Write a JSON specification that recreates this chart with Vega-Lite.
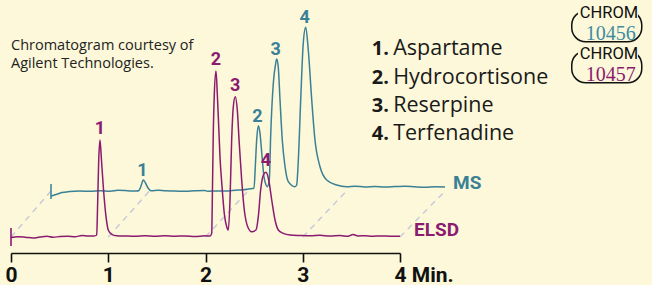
{
  "$schema": "https://vega.github.io/schema/vega-lite/v6.json",
  "width": 652,
  "height": 253,
  "autosize": "none",
  "padding": {"left": 0, "top": 0, "right": 0, "bottom": 32},
  "background": "#fcf8d9",
  "config": {"view": {"stroke": null}},
  "datasets": {
    "ms": [
      {"t":0,"v":-2.5},{"t":0.05,"v":-1.75},{"t":0.11,"v":-0.75},{"t":0.19,"v":-0.25},{"t":0.29,"v":0},{"t":0.4,"v":-0.15},{"t":0.5,"v":0.1},{"t":0.6,"v":-0.1},{"t":0.68,"v":0.35},{"t":0.75,"v":0.25},{"t":0.82,"v":0},{"t":0.87,"v":0},
      {"t":0.893,"v":0.25},{"t":0.914,"v":2.5},{"t":0.937,"v":5.5},{"t":0.959,"v":4},{"t":0.985,"v":1.5},{"t":1.015,"v":0.15},
      {"t":1.09,"v":0.35},{"t":1.16,"v":0.1},{"t":1.26,"v":0},{"t":1.36,"v":-0.15},{"t":1.46,"v":0.1},{"t":1.56,"v":0.25},{"t":1.59,"v":-0.1},{"t":1.7,"v":0},{"t":1.8,"v":0},{"t":1.87,"v":0.35},{"t":1.95,"v":0.6},{"t":2.02,"v":1.1},{"t":2.05,"v":1.3},
      {"t":2.061,"v":1.35},{"t":2.074,"v":12.15},{"t":2.088,"v":25.5},{"t":2.105,"v":32.65},{"t":2.122,"v":28.85},{"t":2.14,"v":18.85},{"t":2.162,"v":7.15},{"t":2.183,"v":3},{"t":2.196,"v":2.15},
      {"t":2.216,"v":5.5},{"t":2.231,"v":28.85},{"t":2.257,"v":53.85},{"t":2.281,"v":63.85},{"t":2.291,"v":66},{"t":2.307,"v":62.15},{"t":2.325,"v":45.5},{"t":2.348,"v":25.5},{"t":2.376,"v":12.15},{"t":2.409,"v":4.65},{"t":2.477,"v":2.15},
      {"t":2.494,"v":3},{"t":2.511,"v":15.5},{"t":2.535,"v":45.5},{"t":2.561,"v":73.85},{"t":2.586,"v":81.85},{"t":2.612,"v":70.5},{"t":2.647,"v":45.5},{"t":2.68,"v":25.5},{"t":2.731,"v":12.15},{"t":2.799,"v":5.5},{"t":2.9,"v":3},{"t":3.002,"v":2.15},
      {"t":3.086,"v":2.35},{"t":3.188,"v":2.05},{"t":3.289,"v":2.3},{"t":3.391,"v":2.0},{"t":3.492,"v":2.2},{"t":3.594,"v":2.4},{"t":3.695,"v":2.1},{"t":3.797,"v":1.9},{"t":3.898,"v":2.15},{"t":4.0,"v":2.0}
    ],
    "elsd": [
      {"t":0,"v":-0.25},{"t":0.072,"v":0.1},{"t":0.144,"v":-0.1},{"t":0.226,"v":-0.5},{"t":0.298,"v":0},{"t":0.37,"v":0.4},{"t":0.432,"v":-0.1},{"t":0.504,"v":0.2},{"t":0.586,"v":0.35},{"t":0.658,"v":0.1},{"t":0.73,"v":0.75},{"t":0.792,"v":0.5},{"t":0.853,"v":0.5},
      {"t":0.881,"v":1},{"t":0.891,"v":16.85},{"t":0.902,"v":38.5},{"t":0.915,"v":48.5},{"t":0.928,"v":40.15},{"t":0.949,"v":25.15},{"t":0.977,"v":10.15},{"t":1.0,"v":3.5},{"t":1.035,"v":1.35},{"t":1.087,"v":0.65},
      {"t":1.172,"v":0.5},{"t":1.275,"v":0.35},{"t":1.378,"v":0.6},{"t":1.481,"v":0.35},{"t":1.584,"v":0.65},{"t":1.686,"v":0.4},{"t":1.789,"v":0.5},{"t":1.892,"v":0.25},{"t":1.995,"v":0.6},{"t":2.046,"v":0.5},
      {"t":2.064,"v":1.85},{"t":2.07,"v":18.5},{"t":2.08,"v":51.85},{"t":2.091,"v":71.85},{"t":2.108,"v":83},{"t":2.121,"v":71.85},{"t":2.136,"v":55.15},{"t":2.149,"v":40.15},{"t":2.17,"v":25.15},{"t":2.193,"v":11.85},{"t":2.218,"v":5.15},{"t":2.235,"v":3.5},
      {"t":2.252,"v":18.5},{"t":2.269,"v":48.5},{"t":2.286,"v":65.15},{"t":2.306,"v":70.15},{"t":2.327,"v":63.5},{"t":2.347,"v":46.85},{"t":2.372,"v":28.5},{"t":2.399,"v":13.5},{"t":2.434,"v":5.15},{"t":2.475,"v":2.65},
      {"t":2.519,"v":3.5},{"t":2.543,"v":10.15},{"t":2.567,"v":23.5},{"t":2.595,"v":31},{"t":2.622,"v":32.35},{"t":2.65,"v":28.5},{"t":2.681,"v":18.5},{"t":2.715,"v":8.5},{"t":2.749,"v":3.5},{"t":2.8,"v":1.85},{"t":2.869,"v":1},
      {"t":2.972,"v":0.75},{"t":3.075,"v":0.6},{"t":3.177,"v":0.85},{"t":3.28,"v":0.5},{"t":3.383,"v":0.7},{"t":3.465,"v":0.4},{"t":3.517,"v":1.25},{"t":3.568,"v":0.5},{"t":3.64,"v":0.65},{"t":3.712,"v":0.35},{"t":3.794,"v":0.55},{"t":3.897,"v":0.4},{"t":4.0,"v":0.35}
    ],
    "msPeaks": [
      {"label":"1","t":0.937,"v":5.5},{"label":"2","t":2.105,"v":32.65},{"label":"3","t":2.291,"v":66},{"label":"4","t":2.586,"v":81.85}
    ],
    "elsdPeaks": [
      {"label":"1","t":0.915,"v":48.5},{"label":"2","t":2.108,"v":83},{"label":"3","t":2.306,"v":70.15},{"label":"4","t":2.622,"v":32.35}
    ],
    "guides": [
      {"g":0,"t":0,"v":0},{"g":0,"t":0.411,"v":23},
      {"g":1,"t":1,"v":0},{"g":1,"t":1.424,"v":23},
      {"g":2,"t":2,"v":0},{"g":2,"t":2.437,"v":23},
      {"g":3,"t":3,"v":0},{"g":3,"t":3.45,"v":23},
      {"g":4,"t":4,"v":0},{"g":4,"t":4.463,"v":23}
    ],
    "legend": [
      {"num":"1.","name":"Aspartame","t":3.709,"v":91},
      {"num":"2.","name":"Hydrocortisone","t":3.709,"v":76.5},
      {"num":"3.","name":"Reserpine","t":3.709,"v":62.65},
      {"num":"4.","name":"Terfenadine","t":3.709,"v":48.5}
    ],
    "note": [
      {"text":"Chromatogram courtesy of","t":0,"v":93.5},
      {"text":"Agilent Technologies.","t":0,"v":84.65}
    ],
    "badges": [
      {"id":"10456","x1":5.766,"x2":6.486,"v1":97.65,"v2":113,"m1":5.83,"m2":6.447,"mv1":109.5,"mv2":117,"ct":6.149,"cv":109.35,"nt":6.168,"nv":98.4,"series":"MS"},
      {"id":"10457","x1":5.766,"x2":6.486,"v1":77.15,"v2":93,"m1":5.83,"m2":6.447,"mv1":89.5,"mv2":96.5,"ct":6.149,"cv":89.0,"nt":6.168,"nv":77.9,"series":"ELSD"}
    ]
  },
  "resolve": {"scale": {"x": "independent", "y": "independent", "color": "independent"}, "axis": {"x": "independent", "y": "independent"}},
  "layer": [
    {"data": {"name": "guides"}, "mark": {"type": "line", "color": "#c6c8db", "strokeWidth": 1.4, "strokeDash": [6, 5]},
     "encoding": {
       "x": {"field": "t", "type": "quantitative", "axis": null, "scale": {"domain": [0, 4], "range": [11, 400], "nice": false, "zero": false}},
       "y": {"field": "v", "type": "quantitative", "axis": null, "scale": {"domain": [0, 100], "range": [237, 37], "nice": false, "zero": false}},
       "detail": {"field": "g"}}},
    {"data": {"name": "ms"}, "mark": {"type": "line", "color": "#3a8096", "strokeWidth": 1.5, "interpolate": "monotone"},
     "encoding": {
       "x": {"field": "t", "type": "quantitative", "axis": null, "scale": {"domain": [0, 4], "range": [51, 445], "nice": false, "zero": false}},
       "y": {"field": "v", "type": "quantitative", "axis": null, "scale": {"domain": [0, 100], "range": [191, -9], "nice": false, "zero": false}}}},
    {"data": {"values": [{"t": 0, "v": 3.5, "v2": -4}]}, "mark": {"type": "rule", "color": "#3a8096", "strokeWidth": 1.5},
     "encoding": {
       "x": {"field": "t", "type": "quantitative", "axis": null, "scale": {"domain": [0, 4], "range": [51, 445], "nice": false, "zero": false}},
       "y": {"field": "v", "type": "quantitative", "axis": null, "scale": {"domain": [0, 100], "range": [191, -9], "nice": false, "zero": false}},
       "y2": {"field": "v2"}}},
    {"data": {"name": "msPeaks"}, "mark": {"type": "text", "color": "#3a8096", "font": "Roboto", "fontWeight": "bold", "fontSize": 18, "baseline": "alphabetic", "dy": -4, "dx": -1},
     "encoding": {
       "x": {"field": "t", "type": "quantitative", "axis": null, "scale": {"domain": [0, 4], "range": [51, 445], "nice": false, "zero": false}},
       "y": {"field": "v", "type": "quantitative", "axis": null, "scale": {"domain": [0, 100], "range": [191, -9], "nice": false, "zero": false}},
       "text": {"field": "label"}}},
    {"data": {"values": [{"t": 4, "v": 0, "label": "MS"}]}, "mark": {"type": "text", "color": "#3a8096", "font": "Roboto", "fontWeight": "bold", "fontSize": 19, "align": "left", "baseline": "alphabetic", "dx": 8, "dy": -2},
     "encoding": {
       "x": {"field": "t", "type": "quantitative", "axis": null, "scale": {"domain": [0, 4], "range": [51, 445], "nice": false, "zero": false}},
       "y": {"field": "v", "type": "quantitative", "axis": null, "scale": {"domain": [0, 100], "range": [191, -9], "nice": false, "zero": false}},
       "text": {"field": "label"}}},
    {"data": {"name": "elsd"}, "mark": {"type": "line", "color": "#8b1a70", "strokeWidth": 1.5, "interpolate": "monotone"},
     "encoding": {
       "x": {"field": "t", "type": "quantitative", "scale": {"domain": [0, 4], "range": [11, 400], "nice": false, "zero": false},
         "axis": {"values": [0, 1, 2, 3, 4], "title": null, "grid": false, "domainColor": "#111111", "domainWidth": 1.6, "tickColor": "#111111", "tickWidth": 1.6, "tickSize": 9,
           "labelFont": "Roboto", "labelFontSize": 21, "labelFontWeight": "bold", "labelColor": "#111111",
           "labelBaseline": "alphabetic", "labelPadding": 19, "labelFlush": false, "labelOverlap": false, "labelBound": false,
           "labelExpr": "datum.value == 4 ? '4 Min.' : datum.label",
           "labelAlign": {"condition": {"test": "datum.value == 4", "value": "left"}, "value": "center"},
           "labelOffset": {"condition": {"test": "datum.value == 4", "value": -6}, "value": 0}}},
       "y": {"field": "v", "type": "quantitative", "axis": null, "scale": {"domain": [0, 100], "range": [237, 37], "nice": false, "zero": false}}}},
    {"data": {"values": [{"t": 0, "v": 4.5, "v2": -4.5}]}, "mark": {"type": "rule", "color": "#8b1a70", "strokeWidth": 1.6},
     "encoding": {
       "x": {"field": "t", "type": "quantitative", "axis": null, "scale": {"domain": [0, 4], "range": [11, 400], "nice": false, "zero": false}},
       "y": {"field": "v", "type": "quantitative", "axis": null, "scale": {"domain": [0, 100], "range": [237, 37], "nice": false, "zero": false}},
       "y2": {"field": "v2"}}},
    {"data": {"name": "elsdPeaks"}, "mark": {"type": "text", "color": "#8b1a70", "font": "Roboto", "fontWeight": "bold", "fontSize": 18, "baseline": "alphabetic", "dy": -6},
     "encoding": {
       "x": {"field": "t", "type": "quantitative", "axis": null, "scale": {"domain": [0, 4], "range": [11, 400], "nice": false, "zero": false}},
       "y": {"field": "v", "type": "quantitative", "axis": null, "scale": {"domain": [0, 100], "range": [237, 37], "nice": false, "zero": false}},
       "text": {"field": "label"}}},
    {"data": {"values": [{"t": 4, "v": 0, "label": "ELSD"}]}, "mark": {"type": "text", "color": "#8b1a70", "font": "Roboto", "fontWeight": "bold", "fontSize": 19, "align": "left", "baseline": "alphabetic", "dx": 14, "dy": -1},
     "encoding": {
       "x": {"field": "t", "type": "quantitative", "axis": null, "scale": {"domain": [0, 4], "range": [11, 400], "nice": false, "zero": false}},
       "y": {"field": "v", "type": "quantitative", "axis": null, "scale": {"domain": [0, 100], "range": [237, 37], "nice": false, "zero": false}},
       "text": {"field": "label"}}},
    {"data": {"name": "note"}, "mark": {"type": "text", "color": "#222222", "font": "Open Sans", "fontSize": 14.5, "align": "left", "baseline": "alphabetic"},
     "encoding": {
       "x": {"field": "t", "type": "quantitative", "axis": null, "scale": {"domain": [0, 4], "range": [11, 400], "nice": false, "zero": false}},
       "y": {"field": "v", "type": "quantitative", "axis": null, "scale": {"domain": [0, 100], "range": [237, 37], "nice": false, "zero": false}},
       "text": {"field": "text"}}},
    {"data": {"name": "legend"}, "mark": {"type": "text", "color": "#1a1a1a", "font": "Open Sans", "fontWeight": "bold", "fontSize": 20, "align": "left", "baseline": "alphabetic"},
     "encoding": {
       "x": {"field": "t", "type": "quantitative", "axis": null, "scale": {"domain": [0, 4], "range": [11, 400], "nice": false, "zero": false}},
       "y": {"field": "v", "type": "quantitative", "axis": null, "scale": {"domain": [0, 100], "range": [237, 37], "nice": false, "zero": false}},
       "text": {"field": "num"}}},
    {"data": {"name": "legend"}, "mark": {"type": "text", "color": "#1a1a1a", "font": "Open Sans", "fontSize": 21.5, "align": "left", "baseline": "alphabetic", "dx": 21.5},
     "encoding": {
       "x": {"field": "t", "type": "quantitative", "axis": null, "scale": {"domain": [0, 4], "range": [11, 400], "nice": false, "zero": false}},
       "y": {"field": "v", "type": "quantitative", "axis": null, "scale": {"domain": [0, 100], "range": [237, 37], "nice": false, "zero": false}},
       "text": {"field": "name"}}},
    {"data": {"name": "badges"}, "mark": {"type": "rect", "filled": false, "stroke": "#111111", "strokeWidth": 1.5, "cornerRadius": 14},
     "encoding": {
       "x": {"field": "x1", "type": "quantitative", "axis": null, "scale": {"domain": [0, 4], "range": [11, 400], "nice": false, "zero": false}},
       "x2": {"field": "x2"},
       "y": {"field": "v1", "type": "quantitative", "axis": null, "scale": {"domain": [0, 100], "range": [237, 37], "nice": false, "zero": false}},
       "y2": {"field": "v2"}}},
    {"data": {"name": "badges"}, "mark": {"type": "rect", "fill": "#fcf8d9", "strokeWidth": 0},
     "encoding": {
       "x": {"field": "m1", "type": "quantitative", "axis": null, "scale": {"domain": [0, 4], "range": [11, 400], "nice": false, "zero": false}},
       "x2": {"field": "m2"},
       "y": {"field": "mv1", "type": "quantitative", "axis": null, "scale": {"domain": [0, 100], "range": [237, 37], "nice": false, "zero": false}},
       "y2": {"field": "mv2"}}},
    {"data": {"name": "badges"}, "mark": {"type": "text", "color": "#111111", "font": "Roboto", "fontSize": 16.5, "baseline": "alphabetic"},
     "encoding": {
       "x": {"field": "ct", "type": "quantitative", "axis": null, "scale": {"domain": [0, 4], "range": [11, 400], "nice": false, "zero": false}},
       "y": {"field": "cv", "type": "quantitative", "axis": null, "scale": {"domain": [0, 100], "range": [237, 37], "nice": false, "zero": false}},
       "text": {"value": "CHROM"}}},
    {"data": {"name": "badges"}, "mark": {"type": "text", "font": "Liberation Serif", "fontSize": 20, "baseline": "alphabetic"},
     "encoding": {
       "x": {"field": "nt", "type": "quantitative", "axis": null, "scale": {"domain": [0, 4], "range": [11, 400], "nice": false, "zero": false}},
       "y": {"field": "nv", "type": "quantitative", "axis": null, "scale": {"domain": [0, 100], "range": [237, 37], "nice": false, "zero": false}},
       "text": {"field": "id"},
       "color": {"field": "series", "type": "nominal", "legend": null, "scale": {"domain": ["MS", "ELSD"], "range": ["#3f8ba3", "#8b1a70"]}}}}
  ]
}
